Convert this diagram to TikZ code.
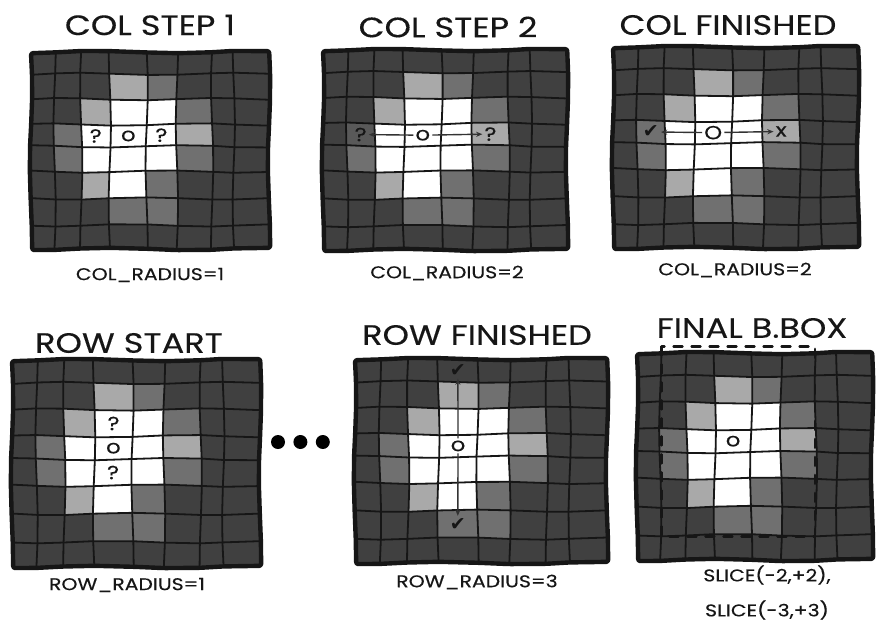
\documentclass[tikz,border=0pt]{standalone}
\usepackage{fontspec}
\setmainfont{Poppins}[FakeStretch=1.2,FakeBold=0.3]
\newfontfamily\symfont{DejaVu Sans}
\usepackage{tikz}
\usetikzlibrary{arrows.meta,positioning,calc}
\definecolor{CellDark}{HTML}{404040}
\definecolor{CellMid}{HTML}{707070}
\definecolor{CellLight}{HTML}{A9A9A9}
\definecolor{InkDark}{HTML}{161616}
\definecolor{InkSoft}{HTML}{333333}
\tikzset{
  cellline/.style={line width=1.8pt,draw=InkDark,line cap=round,line join=round},
  frameline/.style={line width=4.4pt,draw=InkDark,line join=round,rounded corners=2pt},
  titletext/.style={font=\fontsize{28}{30}\selectfont,text=InkDark,inner sep=0pt},
  labeltext/.style={font=\fontsize{17}{19}\selectfont,text=InkDark,inner sep=0pt},
  marktext/.style={font=\fontsize{19}{19}\selectfont,text=InkDark,inner sep=1pt},
  scanarrow/.style={-{Stealth[length=2.2mm,width=1.8mm]},line width=1.4pt,draw=InkSoft,shorten <=1pt,shorten >=1pt},
  bboxline/.style={line width=2.4pt,draw=InkDark,dash pattern=on 9pt off 9pt,line cap=round},
  dotmark/.style={circle,fill=black,minimum size=14pt,inner sep=0pt}
}
% one hand-drawn heat map: name, top-left x/y, bottom-right x/y
\newcommand{\heatgrid}[5]{%
  \foreach \fx [count=\i from 0] in {0,.099,.211,.331,.486,.613,.761,.852,1}
    \foreach \fy [count=\j from 0] in {0,.111,.239,.368,.479,.607,.744,.880,1}
      \coordinate (#1-\i-\j) at ({#2+\fx*(#4-#2)+1.2*sin(91*\i+57*\j)},{#3+\fy*(#5-#3)+1.2*cos(73*\i+41*\j)});
  \fill[CellDark] (#1-0-0) -- (#1-8-0) -- (#1-8-8) -- (#1-0-8) -- cycle;
  \foreach \c/\r/\tone in {3/1/CellLight,4/1/CellMid,2/2/CellLight,3/2/white,4/2/white,5/2/CellMid,
      1/3/CellMid,2/3/white,3/3/white,4/3/white,5/3/CellLight,1/4/CellMid,2/4/white,3/4/white,4/4/white,
      5/4/CellMid,2/5/CellLight,3/5/white,4/5/CellMid,3/6/CellMid,4/6/CellMid}{
    \pgfmathtruncatemacro\cc{\c+1}\pgfmathtruncatemacro\rr{\r+1}
    \fill[\tone] (#1-\c-\r) -- (#1-\cc-\r) -- (#1-\cc-\rr) -- (#1-\c-\rr) -- cycle;
  }
  \foreach \c in {0,...,7}
    \foreach \r in {0,...,7}{
      \pgfmathtruncatemacro\cc{\c+1}\pgfmathtruncatemacro\rr{\r+1}
      \coordinate (#1-m\c-\r) at ($(#1-\c-\r)!.5!(#1-\cc-\rr)$);
    }
  \foreach \i in {1,...,7}
    \draw[cellline] (#1-\i-0) \foreach \j in {1,...,8}{-- (#1-\i-\j)};
  \foreach \j in {1,...,7}
    \draw[cellline] (#1-0-\j) \foreach \i in {1,...,8}{-- (#1-\i-\j)};
  \draw[frameline] (#1-0-0) \foreach \i in {1,...,8}{-- (#1-\i-0)} \foreach \j in {1,...,8}{-- (#1-8-\j)}
    \foreach \i in {7,...,0}{-- (#1-\i-8)} \foreach \j in {7,...,1}{-- (#1-0-\j)} -- cycle;
}

\begin{document}
\begin{tikzpicture}[x=1pt,y=-1pt]
\fill[white] (0,0) rectangle (876,622);
\useasboundingbox (0,0) rectangle (876,622);

% top row: column scan
\heatgrid{p1}{31}{52}{269}{249}
\heatgrid{p2}{323}{50}{567}{250}
\heatgrid{p3}{613}{47}{858}{248}
\fill[black,opacity=.2] (p2-1-3) -- (p2-2-3) -- (p2-2-4) -- (p2-1-4) -- cycle;

\node[titletext] (t1) at (150,25) {COL STEP 1};
\node[titletext] (t2) at (448,27) {COL STEP 2};
\node[titletext] (t3) at (728,25) {COL FINISHED};
\node[labeltext] (l1) at (150,275) {COL\_RADIUS=1};
\node[labeltext] (l2) at (447,273) {COL\_RADIUS=2};
\node[labeltext] (l3) at (735,270) {COL\_RADIUS=2};

\node[marktext] (p1q1) at (p1-m2-3) {?};
\node[marktext] (p1o) at (p1-m3-3) {o};
\node[marktext] (p1q2) at (p1-m4-3) {?};

\node[marktext] (p2q1) at (p2-m1-3) {?};
\node[marktext] (p2o) at (p2-m3-3) {o};
\node[marktext] (p2q2) at (p2-m5-3) {?};
\draw[scanarrow] (p2o) -- (p2q1);
\draw[scanarrow] (p2o) -- (p2q2);

\node[marktext] (p3ok) at (p3-m1-3) {\symfont ✔};
\node[marktext] (p3o) at (p3-m3-3) {O};
\node[marktext] (p3no) at (p3-m5-3) {x};
\draw[scanarrow] (p3o) -- (p3ok);
\draw[scanarrow] (p3o) -- (p3no);

% bottom row: row scan and final box
\heatgrid{p4}{12}{360}{260}{567}
\heatgrid{p5}{355}{359}{607}{563}
\heatgrid{p6}{637}{353}{872}{560}

\node[titletext] (t4) at (129,343) {ROW START};
\node[titletext] (t5) at (477,335) {ROW FINISHED};
\node[titletext] (t6) at (752,328) {FINAL B.BOX};
\node[labeltext] (l4) at (127,585) {ROW\_RADIUS=1};
\node[labeltext] (l5) at (477,582) {ROW\_RADIUS=3};
\node[labeltext] (l6) at (767,575) {SLICE(-2,+2),};
\node[labeltext,below=35pt of l6.center,anchor=center] (l7) {SLICE(-3,+3)};

\node[marktext] (p4q1) at (p4-m3-2) {?};
\node[marktext] (p4o) at (p4-m3-3) {o};
\node[marktext] (p4q2) at (p4-m3-4) {?};

\node[marktext] (p5ok1) at (p5-m3-0) {\symfont ✔};
\node[marktext] (p5o) at (p5-m3-3) {o};
\node[marktext] (p5ok2) at (p5-m3-6) {\symfont ✔};
\draw[scanarrow] (p5o) -- (p5ok1);
\draw[scanarrow] (p5o) -- (p5ok2);

\node[marktext] (p6o) at (p6-m3-3) {o};
\draw[bboxline] ($(p6-1-0)+(0,-7)$) rectangle (p6-6-7);

\node[dotmark] (dot1) at (278,442) {};
\node[dotmark,right=8pt of dot1] (dot2) {};
\node[dotmark,right=8pt of dot2] (dot3) {};
\end{tikzpicture}
\end{document}
